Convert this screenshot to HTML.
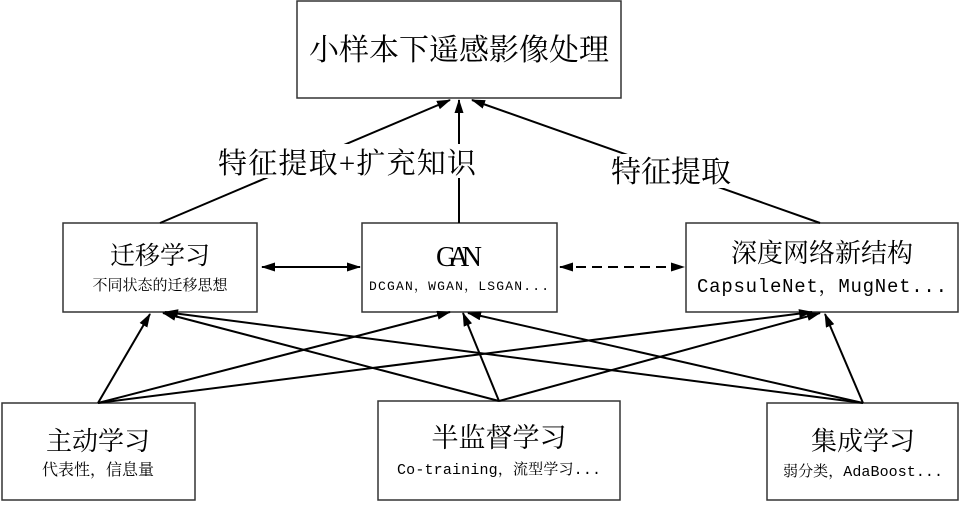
<!DOCTYPE html>
<html><head><meta charset="utf-8"><style>
body{margin:0;background:#fff;width:962px;height:502px;overflow:hidden}
svg text{font-family:"Liberation Serif","Noto Serif CJK SC",serif;fill:#000}
.m{font-family:"Liberation Mono","Noto Serif CJK SC",monospace}
</style></head><body>
<svg width="962" height="502" viewBox="0 0 962 502">
<defs><marker id="a" markerWidth="14" markerHeight="9" refX="13" refY="4.5" orient="auto" markerUnits="userSpaceOnUse"><path d="M0,0 L14,4.5 L0,9 Z" fill="#000"/></marker>
<marker id="b" markerWidth="14" markerHeight="9" refX="1" refY="4.5" orient="auto" markerUnits="userSpaceOnUse"><path d="M14,0 L0,4.5 L14,9 Z" fill="#000"/></marker></defs>
<g fill="#fff" stroke="#333" stroke-width="1.5">
<rect x="297" y="1" width="324" height="97"/>
<rect x="63" y="223" width="194" height="89"/>
<rect x="362" y="223" width="195" height="89"/>
<rect x="686" y="223" width="272" height="89"/>
<rect x="2" y="403" width="193" height="97"/>
<rect x="378" y="401" width="242" height="99"/>
<rect x="767" y="403" width="191" height="97"/>
</g>
<g stroke="#000" stroke-width="2" fill="none" marker-end="url(#a)">
<line x1="160" y1="223" x2="450" y2="100"/>
<line x1="459" y1="223" x2="459" y2="100"/>
<line x1="820" y1="223" x2="472" y2="100"/>
<line x1="98" y1="403" x2="150" y2="314"/>
<line x1="98" y1="403" x2="450" y2="312"/>
<line x1="98" y1="403" x2="812" y2="312"/>
<line x1="499" y1="401" x2="163" y2="313"/>
<line x1="499" y1="401" x2="463" y2="313"/>
<line x1="499" y1="401" x2="820" y2="313"/>
<line x1="863" y1="403" x2="165" y2="312"/>
<line x1="863" y1="403" x2="468" y2="313"/>
<line x1="863" y1="403" x2="825" y2="314"/>
<line x1="262" y1="267" x2="360" y2="267" marker-start="url(#b)"/>
<line x1="560" y1="267" x2="684" y2="267" marker-start="url(#b)" stroke-dasharray="10,6"/>
</g>
<rect x="215" y="144" width="264" height="34" fill="#fff"/>
<rect x="608" y="154" width="126" height="34" fill="#fff"/>
<text x="459" y="60" font-size="30" text-anchor="middle">小样本下遥感影像处理</text>
<text x="347" y="173" font-size="29" text-anchor="middle" textLength="258">特征提取+扩充知识</text>
<text x="671" y="182" font-size="30" text-anchor="middle">特征提取</text>
<text x="160" y="264" font-size="25" text-anchor="middle">迁移学习</text>
<text x="160" y="290" font-size="15" text-anchor="middle">不同状态的迁移思想</text>
<text x="459" y="266" font-size="28" text-anchor="middle" textLength="46">GAN</text>
<text x="459" y="290" font-size="13" text-anchor="middle" class="m" textLength="180">DCGAN，WGAN，LSGAN...</text>
<text x="822" y="262" font-size="26" text-anchor="middle">深度网络新结构</text>
<text x="822" y="292" font-size="19" text-anchor="middle" class="m" textLength="250">CapsuleNet，MugNet...</text>
<text x="98" y="450" font-size="26" text-anchor="middle">主动学习</text>
<text x="98" y="475" font-size="16" text-anchor="middle">代表性，信息量</text>
<text x="499" y="447" font-size="27" text-anchor="middle">半监督学习</text>
<text x="499" y="474" font-size="15" text-anchor="middle" class="m" textLength="204">Co-training，流型学习...</text>
<text x="863" y="450" font-size="26" text-anchor="middle">集成学习</text>
<text x="863" y="476" font-size="15" text-anchor="middle" class="m" textLength="160">弱分类，AdaBoost...</text>
</svg>
</body></html>
